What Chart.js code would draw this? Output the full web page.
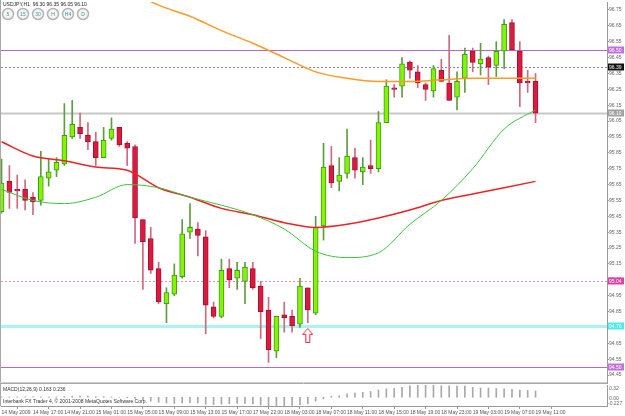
<!DOCTYPE html>
<html>
<head>
<meta charset="utf-8">
<script src="https://cdn.jsdelivr.net/npm/chart.js@4"></script>
<style>
  html, body { margin: 0; padding: 0; background: #fff; }
  #wrap { position: relative; width: 625px; height: 416px; overflow: hidden; }
  canvas { position: absolute; left: 0; }
</style>
</head>
<body>
<div id="wrap">
  <canvas id="price" width="625" height="385" style="top:0;width:625px;height:385px"></canvas>
  <canvas id="macd" width="625" height="31" style="top:385px;width:625px;height:31px"></canvas>
</div>
<script>
// USDJPY H1 candles, bar 0 = 14 May 2009 13:00
var openP = [95.48,95.67,95.62,95.62,95.57,95.55,95.69,95.74,95.78,95.95,
  96.01,95.96,95.92,95.82,95.94,96.01,95.91,95.89,95.43,95.31,
  95.12,94.90,94.96,95.07,95.35,95.37,95.32,94.88,94.82,95.12,
  95.06,95.04,95.12,95.01,94.86,94.60,94.83,94.82,94.77,95.00,
  94.84,95.39,95.77,95.67,95.72,95.82,95.73,95.77,95.75,96.04,
  96.26,96.27,96.42,96.36,96.28,96.24,96.37,96.29,96.20,96.32,
  96.49,96.41,96.45,96.40,96.49,96.67,96.49,96.30,96.30];
var highP = [95.81,95.77,95.71,95.68,95.60,95.86,95.81,95.82,96.16,96.18,
  96.10,96.04,95.98,96.01,96.07,96.01,95.92,95.90,95.43,95.38,
  95.16,95.00,95.15,95.43,95.53,95.41,95.36,94.91,95.18,95.18,
  95.16,95.16,95.16,95.04,94.94,94.82,94.91,94.86,95.06,95.00,
  95.45,95.91,95.89,95.82,96.00,95.88,95.82,95.93,96.11,96.31,
  96.28,96.45,96.43,96.40,96.29,96.40,96.44,96.59,96.36,96.51,
  96.51,96.54,96.46,96.55,96.69,96.69,96.55,96.37,96.35];
var lowP = [95.47,95.50,95.50,95.49,95.46,95.52,95.64,95.70,95.77,95.94,
  95.94,95.87,95.77,95.82,95.93,95.89,95.77,95.28,94.99,95.09,
  94.90,94.78,94.95,95.06,95.31,95.20,94.71,94.81,94.81,95.00,
  94.99,94.90,94.99,94.68,94.53,94.56,94.72,94.72,94.75,94.78,
  94.83,95.30,95.63,95.61,95.69,95.69,95.65,95.72,95.73,96.04,
  96.20,96.20,96.32,96.26,96.18,96.20,96.30,96.18,96.12,96.23,
  96.36,96.34,96.28,96.33,96.38,96.50,96.14,96.23,96.04];
var closeP = [95.66,95.60,95.61,95.55,95.54,95.70,95.73,95.79,95.96,96.03,
  95.97,95.92,95.82,95.93,96.00,95.90,95.88,95.44,95.29,95.11,
  94.91,94.97,95.08,95.34,95.38,95.33,94.89,94.82,95.11,95.05,
  95.11,95.13,95.00,94.85,94.61,94.82,94.81,94.76,95.01,94.86,
  95.38,95.76,95.66,95.71,95.83,95.74,95.76,95.75,96.04,96.27,
  96.25,96.41,96.37,96.29,96.25,96.38,96.30,96.18,96.30,96.47,
  96.42,96.44,96.39,96.49,96.66,96.50,96.29,96.29,96.10];

// moving averages, read every 4th bar
var maIndex = [0,4,8,12,16,20,24,28,32,36,40,44,48,52,56,60,64,68];
var maRed = [95.92,95.83,95.80,95.76,95.74,95.63,95.57,95.50,95.46,95.41,95.38,95.40,95.44,95.49,95.55,95.59,95.63,95.67];
var maGreen = [95.62,95.55,95.53,95.57,95.65,95.63,95.57,95.52,95.46,95.37,95.23,95.19,95.22,95.40,95.55,95.75,96.00,96.12];
var maOrangeIndex = [16,20,24,28,32,36,40,44,48,52,56,60,64,68];
var maOrange = [96.88,96.78,96.71,96.62,96.54,96.45,96.36,96.32,96.30,96.30,96.31,96.32,96.32,96.32];

// MACD(12,26,9) main line as histogram, one value per bar
var macdHist = [0.01,0.01,0.01,0.01,0.01,0.01,0.01,0.01,
  0.02,0.03,0.03,0.03,0.02,0.02,
  0.01,0.00,-0.01,-0.03,
  -0.07,-0.10,-0.13,-0.15,-0.16,-0.15,-0.14,-0.15,-0.18,-0.19,
  -0.18,-0.17,-0.16,-0.16,-0.17,-0.20,-0.22,-0.22,-0.22,-0.21,
  -0.19,-0.17,-0.10,
  -0.04,0.03,0.04,0.09,0.11,0.13,0.15,0.19,0.22,0.23,
  0.26,0.30,0.32,0.32,0.32,0.30,0.30,0.29,0.29,0.26,
  0.24,0.24,0.23,0.22,0.21,0.19,0.18,0.163];

var timeTickIndex = [0,4,8,12,16,20,24,28,32,36,40,44,48,52,56,60,64,68];
var timeTickLabels = ['14 May 2009','14 May 17:00','14 May 21:00','15 May 01:00','15 May 05:00','15 May 09:00',
  '15 May 13:00','15 May 17:00','17 May 22:00','18 May 03:00','18 May 07:00','18 May 11:00',
  '18 May 15:00','18 May 19:00','18 May 23:00','19 May 03:00','19 May 07:00','19 May 11:00'];
var priceTicks = [94.45,94.55,94.65,94.75,94.85,94.95,95.05,95.15,95.25,95.35,95.45,95.55,95.65,95.75,95.85,95.95,96.05,96.15,96.25,96.35,96.45,96.55,96.65,96.75];
var macdMax = 0.32, macdMin = -0.227;
var macdTickLabels = ['0.32', '0.00', '-0.227'];

var levelPrices = [96.50, 96.39, 96.10, 95.04, 94.76, 94.50];
var levelLine = ['#b866cc', '#888888', '#c8c8c8', '#e890b0', '#a8f4f4', '#b866cc'];
var levelWidth = [1, 1, 2, 1, 3, 1];
var levelDash = [[], [2, 2], [], [2, 2], [], []];
var levelBox = ['#c070d8', '#101010', '#a0a0a0', '#e040a0', '#50eaea', '#c070d8'];

var arrowX = [39];
var arrowY = [94.70];

var header = 'USDJPY,H1  96.30 96.35 96.05 96.10';
var buttons = ['5', '15', '30', 'H', 'H4', 'D'];
var macdTitle = 'MACD(12,26,9) 0.163 0.236';
var copyright = 'Interbank FX Trader 4, \u00a9 2001-2008 MetaQuotes Software Corp.';

var FONT = '"Liberation Sans", Arial, sans-serif';
Chart.defaults.font.family = FONT;
Chart.defaults.font.size = 5;
Chart.defaults.animation = false;

var xMin = -0.07, xMax = 77.1;

var idx = openP.map(function (v, i) { return i; });
var up = idx.map(function (i) { return closeP[i] >= openP[i]; });

var arrowImg = document.createElement('canvas');
arrowImg.width = 11; arrowImg.height = 15;
var ac = arrowImg.getContext('2d');
ac.fillStyle = '#fff';
ac.strokeStyle = '#e8283c';
ac.lineWidth = 1;
ac.beginPath();
ac.moveTo(5.5, 0.5); ac.lineTo(10.5, 6.5); ac.lineTo(7.5, 6.5); ac.lineTo(7.5, 14.5);
ac.lineTo(3.5, 14.5); ac.lineTo(3.5, 6.5); ac.lineTo(0.5, 6.5); ac.closePath();
ac.fill(); ac.stroke();

// fixed axis width, and no extra room for the end labels
function fitRight(w) {
  return function (scale) {
    scale.width = w;
    scale.paddingTop = 0;
    scale.paddingBottom = 0;
  };
}

var overlay = {
  id: 'overlay',
  beforeDatasetsDraw: function (chart) {
    var ctx = chart.ctx, a = chart.chartArea, ys = chart.scales.y;
    ctx.save();
    levelPrices.forEach(function (p, k) {
      var py = Math.round(ys.getPixelForValue(p)) + 0.5;
      ctx.strokeStyle = levelLine[k];
      ctx.lineWidth = levelWidth[k];
      ctx.setLineDash(levelDash[k]);
      ctx.beginPath(); ctx.moveTo(a.left, py); ctx.lineTo(a.right, py); ctx.stroke();
    });
    ctx.restore();
  },
  afterDraw: function (chart) {
    var ctx = chart.ctx, a = chart.chartArea, ys = chart.scales.y;
    ctx.save();
    // frame
    ctx.strokeStyle = '#a8a8a8';
    ctx.lineWidth = 1;
    ctx.beginPath();
    ctx.moveTo(0.5, 0); ctx.lineTo(0.5, 385);
    ctx.moveTo(0, 383.5); ctx.lineTo(a.right, 383.5);
    ctx.stroke();
    ctx.strokeStyle = '#d0d0d0';
    ctx.beginPath(); ctx.moveTo(0, 382.5); ctx.lineTo(a.right, 382.5); ctx.stroke();
    // price boxes on the axis
    ctx.font = '5px ' + FONT;
    ctx.textBaseline = 'middle';
    ctx.textAlign = 'left';
    levelPrices.forEach(function (p, k) {
      var py = Math.round(ys.getPixelForValue(p));
      ctx.fillStyle = levelBox[k];
      ctx.fillRect(a.right + 1, py - 3.5, 16, 7);
      ctx.fillStyle = '#fff';
      ctx.fillText(p.toFixed(2), a.right + 2, py + 0.5);
    });
    // header
    ctx.fillStyle = '#222';
    ctx.textBaseline = 'top';
    ctx.fillText(header, 3, 2);
    // period buttons
    buttons.forEach(function (b, k) {
      var cx = 8 + k * 15, cy = 14;
      ctx.beginPath();
      ctx.arc(cx, cy, 5.5, 0, Math.PI * 2);
      ctx.fillStyle = '#f4f4f4';
      ctx.fill();
      ctx.lineWidth = 1.5;
      ctx.strokeStyle = '#b4b4b4';
      ctx.stroke();
      ctx.fillStyle = '#3a9a9a';
      ctx.textAlign = 'center';
      ctx.textBaseline = 'middle';
      ctx.fillText(b, cx, cy + 0.5);
    });
    ctx.restore();
  }
};

new Chart(document.getElementById('price'), {
  data: {
    datasets: [{
      type: 'line',
      data: maIndex.map(function (x, k) { return { x: x, y: maGreen[k] }; }),
      borderColor: '#3cc43c', borderWidth: 1, cubicInterpolationMode: 'monotone', order: -3
    }, {
      type: 'line',
      data: maIndex.map(function (x, k) { return { x: x, y: maRed[k] }; }),
      borderColor: '#ee2222', borderWidth: 1.5, cubicInterpolationMode: 'monotone', order: -2
    }, {
      type: 'line',
      data: maOrangeIndex.map(function (x, k) { return { x: x, y: maOrange[k] }; }),
      borderColor: '#ff9a22', borderWidth: 1.5, cubicInterpolationMode: 'monotone', order: -1
    }, {
      type: 'bar',
      data: idx.map(function (i) { return { x: i, y: [openP[i], closeP[i]] }; }),
      backgroundColor: up.map(function (u) { return u ? '#84f400' : '#dc1a40'; }),
      borderColor: up.map(function (u) { return u ? '#3e9a1c' : '#a8102e'; }),
      borderWidth: 1, borderSkipped: false, barThickness: 5, grouped: false, order: 0
    }, {
      type: 'bar',
      data: idx.map(function (i) { return { x: i, y: [lowP[i], highP[i]] }; }),
      backgroundColor: up.map(function (u) { return u ? '#5c9e3c' : '#cc6a80'; }),
      borderWidth: 0, barThickness: 1, grouped: false, order: 1
    }, {
      type: 'scatter',
      data: arrowX.map(function (x, k) { return { x: x, y: arrowY[k] }; }),
      pointStyle: arrowImg, pointRadius: 6, order: -4
    }]
  },
  options: {
    responsive: false,
    animation: false,
    layout: { autoPadding: false, padding: { left: 1, top: 2, right: 0, bottom: 2 } },
    elements: { point: { radius: 0 }, line: { fill: false } },
    plugins: { legend: { display: false }, tooltip: { enabled: false } },
    scales: {
      x: { type: 'linear', min: xMin, max: xMax, display: false, offset: false },
      y: {
        position: 'right', min: 94.40, max: 96.80,
        afterFit: fitRight(18),
        afterBuildTicks: function (scale) { scale.ticks = priceTicks.map(function (v) { return { value: v }; }); },
        grid: { drawOnChartArea: false, drawTicks: true, tickLength: 2, color: '#999' },
        border: { display: true, color: '#999' },
        ticks: {
          autoSkip: false, padding: 0, color: '#666', font: { size: 5 },
          callback: function (v) { return v.toFixed(2); }
        }
      }
    }
  },
  plugins: [overlay]
});

var macdText = {
  id: 'macdText',
  afterDraw: function (chart) {
    var ctx = chart.ctx, a = chart.chartArea, ys = chart.scales.y;
    ctx.save();
    ctx.font = '5px ' + FONT;
    ctx.fillStyle = '#333';
    ctx.textBaseline = 'middle';
    ctx.textAlign = 'left';
    ctx.fillText(macdTitle, 3, 4.5);
    ctx.fillText(copyright, 3, 16.5);
    // value labels: max at top, zero, min at bottom
    ctx.fillStyle = '#666';
    ctx.textBaseline = 'top';
    ctx.fillText(macdTickLabels[0], a.right + 2, a.top + 1);
    ctx.textBaseline = 'middle';
    ctx.fillText(macdTickLabels[1], a.right + 2, ys.getPixelForValue(0) + 1);
    ctx.textBaseline = 'bottom';
    ctx.fillText(macdTickLabels[2], a.right + 1, a.bottom);
    ctx.strokeStyle = '#a8a8a8';
    ctx.beginPath(); ctx.moveTo(0.5, 0); ctx.lineTo(0.5, a.bottom); ctx.stroke();
    ctx.restore();
  }
};

new Chart(document.getElementById('macd'), {
  type: 'bar',
  data: {
    datasets: [{
      data: idx.map(function (i) { return { x: i, y: macdHist[i] }; }),
      backgroundColor: '#a8a8a8', barThickness: 1, borderWidth: 0
    }]
  },
  options: {
    responsive: false,
    animation: false,
    layout: { autoPadding: false, padding: { left: 1, top: 0, right: 0, bottom: 0 } },
    plugins: { legend: { display: false }, tooltip: { enabled: false } },
    scales: {
      x: {
        type: 'linear', min: xMin, max: xMax, offset: false,
        afterFit: function (scale) { scale.height = 10; },
        afterBuildTicks: function (scale) { scale.ticks = timeTickIndex.map(function (v) { return { value: v }; }); },
        grid: { drawOnChartArea: false, drawTicks: true, tickLength: 3, color: '#999' },
        border: { display: true, color: '#999' },
        ticks: {
          autoSkip: false, maxRotation: 0, align: 'start', padding: 1, color: '#555', font: { size: 5 },
          callback: function (v) { var k = timeTickIndex.indexOf(v); return k < 0 ? '' : timeTickLabels[k]; }
        }
      },
      y: {
        position: 'right', min: macdMin, max: macdMax,
        afterFit: fitRight(18),
        grid: { display: false },
        border: { display: true, color: '#999' },
        ticks: { display: false }
      }
    }
  },
  plugins: [macdText]
});
</script>
</body>
</html>
